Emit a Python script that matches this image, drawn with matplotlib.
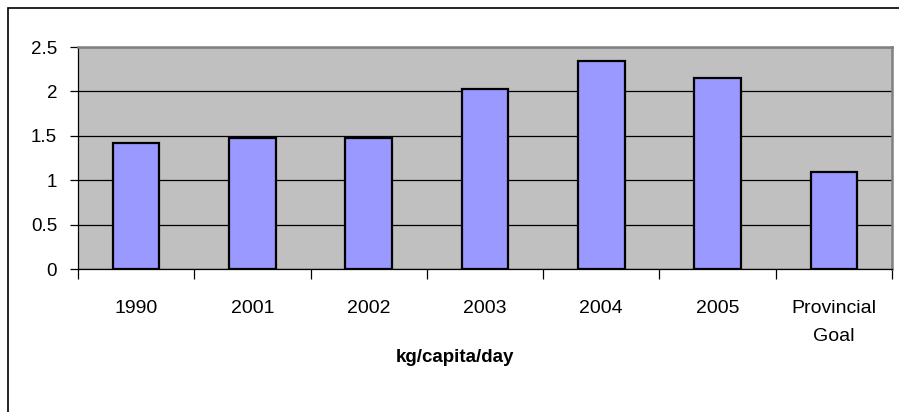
import matplotlib.pyplot as plt
from matplotlib.patches import Rectangle

# --- Data ---
categories = ["1990", "2001", "2002", "2003", "2004", "2005", "Provincial\nGoal"]
values = [1.42, 1.48, 1.48, 2.03, 2.34, 2.15, 1.09]
y_ticks = [0, 0.5, 1, 1.5, 2, 2.5]

plt.rcParams['font.family'] = ['Liberation Sans', 'DejaVu Sans']

# --- Plotting ---
fig = plt.figure(figsize=(8.99, 4.12), dpi=100)
W, H = 899, 412
ax = fig.add_axes([78 / W, 1 - 269 / H, (892 - 78) / W, (269 - 47) / H])

x = list(range(len(categories)))
ax.bar(x, values, width=0.4, color="#9999FF", edgecolor="black", linewidth=1.6, zorder=3)

ax.set_facecolor("#C0C0C0")
ax.set_xlim(-0.5, len(categories) - 0.5)
ax.set_ylim(0, 2.5)
ax.set_yticks(y_ticks)
ax.set_yticklabels(["0", "0.5", "1", "1.5", "2", "2.5"])
ax.yaxis.grid(True, color="black", linewidth=0.9, zorder=1)
ax.set_axisbelow(True)

# category ticks sit between the bars, labels under the bar centres
ax.set_xticks([i - 0.5 for i in range(len(categories) + 1)])
ax.set_xticklabels([""] * (len(categories) + 1))
ax.set_xticks(x, minor=True)
ax.set_xticklabels(categories, minor=True, fontsize=14, linespacing=1.85)
ax.tick_params(axis="x", which="minor", length=0, pad=22)
ax.tick_params(axis="x", which="major", length=7, width=0.9, color="black")
ax.tick_params(axis="y", length=6, width=0.9, labelsize=13.5, pad=9)
for lbl in ax.get_xticklabels(minor=True):
    lbl.set_verticalalignment("top")

fig.text(455 / W, 1 - 357 / H, "kg/capita/day", fontsize=13.5, fontweight="bold",
         ha="center", va="center")

for side in ["top", "right"]:
    ax.spines[side].set_color("#808080")
    ax.spines[side].set_linewidth(1.8)
for side in ["left", "bottom"]:
    ax.spines[side].set_color("black")
    ax.spines[side].set_linewidth(0.9)

# outer chart frame (cropped at right and bottom)
fig.patches.append(Rectangle((8 / W, -0.05), 1.0, 1 - 8 / H + 0.05,
                             transform=fig.transFigure, fill=False,
                             edgecolor="black", linewidth=1.2))

fig.savefig("out.png", dpi=100)
